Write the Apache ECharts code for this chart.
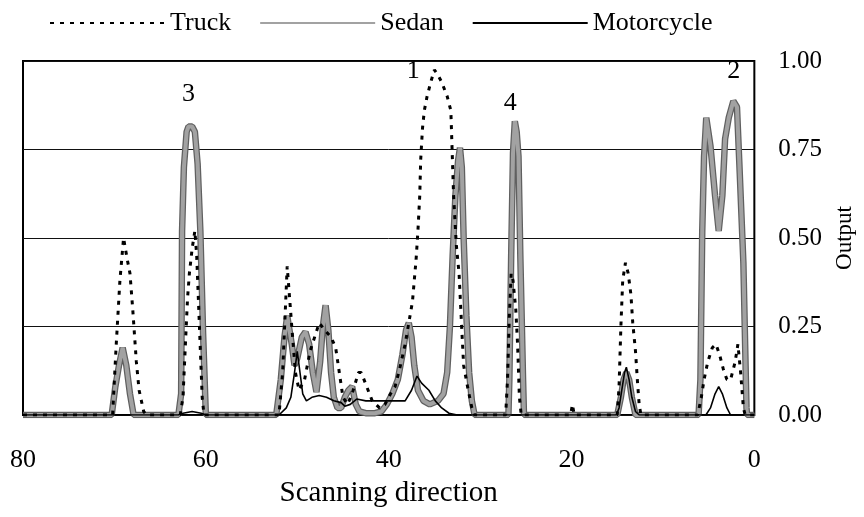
<!DOCTYPE html>
<html>
<head>
<meta charset="utf-8">
<script src="https://cdn.jsdelivr.net/npm/echarts@6/dist/echarts.min.js"></script>
<style>html,body{margin:0;padding:0;background:#fff;}#c{width:864px;height:517px;}</style>
</head>
<body>
<div id="c"></div>
<script>
// x = scanning position (80 -> 0), y = output
var seriesNames = ['Truck', 'Sedan', 'Motorcycle'];
var xTicks = [0, 20, 40, 60, 80];
var yTicks = [0, 0.25, 0.5, 0.75, 1.0];

var truck = [
  [80,0],[70.2,0],[69.8,0.2],[69.4,0.38],[69.0,0.50],[68.6,0.44],[68.3,0.40],[68.0,0.30],[67.6,0.15],[67.3,0.07],[66.8,0.01],[66.5,0],
  [62.8,0],[62.5,0.05],[62.2,0.22],[62.0,0.33],[61.8,0.40],[61.5,0.47],[61.2,0.52],[61.0,0.45],[60.7,0.25],[60.4,0.05],[60.2,0],
  [52.0,0],[51.6,0.12],[51.3,0.30],[51.1,0.42],[50.9,0.42],[50.6,0.25],[50.2,0.12],[49.8,0.07],[49.2,0.10],[48.6,0.18],[48.1,0.22],
  [47.6,0.26],[47.0,0.24],[46.3,0.22],[45.8,0.19],[45.4,0.12],[45.0,0.05],[44.5,0.03],[44.0,0.06],[43.3,0.12],[43.0,0.12],[42.4,0.08],
  [41.8,0.04],[41.0,0.02],[40.4,0.03],[39.8,0.06],[39.3,0.08],[38.8,0.13],[38.2,0.20],[37.8,0.26],[37.4,0.32],[37.0,0.44],[36.8,0.52],
  [36.6,0.62],[36.5,0.72],[36.3,0.81],[36.1,0.86],[35.8,0.90],[35.4,0.94],[35.0,0.975],[34.6,0.96],[34.2,0.94],[33.6,0.90],[33.2,0.86],
  [33.1,0.78],[32.9,0.62],[32.6,0.48],[32.3,0.40],[32.0,0.24],[31.8,0.14],[31.3,0.07],[30.9,0.02],[30.6,0],
  [27.2,0],[27.0,0.10],[26.8,0.28],[26.6,0.40],[26.4,0.38],[26.1,0.30],[25.9,0.20],[25.7,0.05],[25.5,0],
  [20.1,0],[19.9,0.03],[19.7,0],
  [15.0,0],[14.8,0.08],[14.6,0.25],[14.4,0.38],[14.1,0.43],[13.8,0.40],[13.5,0.34],[13.3,0.26],[13.0,0.18],[12.8,0.10],[12.6,0.03],[12.4,0],
  [6.2,0],[5.8,0.05],[5.5,0.10],[5.1,0.15],[4.6,0.19],[4.2,0.20],[3.8,0.17],[3.4,0.13],[3.0,0.10],[2.6,0.10],[2.1,0.15],[1.8,0.20],
  [1.5,0.12],[1.2,0.02],[1.0,0],[0,0]
];

var sedan = [
  [80,0],[70.3,0],[69.9,0.08],[69.5,0.14],[69.1,0.19],[68.7,0.14],[68.3,0.06],[67.9,0],
  [63.0,0],[62.7,0.06],[62.6,0.52],[62.4,0.70],[62.1,0.80],[61.9,0.815],[61.5,0.815],[61.2,0.80],[60.9,0.71],[60.6,0.52],[60.3,0.23],[60.0,0],
  [52.3,0],[51.8,0.10],[51.4,0.22],[51.1,0.28],[50.9,0.28],[50.6,0.20],[50.3,0.14],[50.0,0.16],[49.5,0.22],[49.1,0.235],[48.7,0.20],
  [48.3,0.12],[47.9,0.065],[47.5,0.15],[47.2,0.25],[46.9,0.31],[46.6,0.24],[46.3,0.12],[46.0,0.05],[45.6,0.02],[45.2,0.02],[44.8,0.05],
  [44.4,0.07],[44.0,0.08],[43.6,0.03],[43.2,0.01],[42.5,0.005],[41.5,0.005],[40.8,0.01],[40.2,0.03],[39.6,0.06],[39.0,0.10],[38.5,0.17],
  [38.1,0.24],[37.8,0.26],[37.5,0.22],[37.2,0.14],[36.8,0.07],[36.2,0.04],[35.5,0.03],[34.6,0.04],[34.0,0.06],[33.6,0.12],[33.3,0.25],
  [33.0,0.45],[32.7,0.62],[32.4,0.72],[32.2,0.755],[32.0,0.70],[31.8,0.50],[31.5,0.28],[31.2,0.12],[30.9,0.04],[30.6,0],
  [26.9,0],[26.8,0.10],[26.6,0.45],[26.4,0.74],[26.2,0.83],[26.0,0.80],[25.8,0.73],[25.6,0.45],[25.3,0.10],[25.2,0],
  [15.0,0],[14.6,0.05],[14.3,0.10],[14.0,0.12],[13.7,0.10],[13.4,0.05],[13.0,0],
  [6.1,0],[5.9,0.10],[5.7,0.52],[5.5,0.73],[5.26,0.84],[4.8,0.76],[4.3,0.62],[3.9,0.52],[3.5,0.62],[3.2,0.78],[2.8,0.84],[2.3,0.887],
  [1.9,0.87],[1.6,0.685],[1.2,0.43],[0.86,0.02],[0.8,0],[0,0]
];

var motorcycle = [
  [80,0],[63.0,0],[62.5,0.005],[61.5,0.01],[60.5,0.005],[60.0,0],
  [52.0,0],[51.2,0.02],[50.7,0.05],[50.3,0.12],[50.0,0.18],[49.7,0.12],[49.4,0.06],[49.0,0.04],[48.4,0.05],[47.6,0.055],[46.8,0.05],
  [46.0,0.04],[45.2,0.035],[44.8,0.025],[44.2,0.03],[43.5,0.045],[42.5,0.04],[40.0,0.04],[38.2,0.04],[37.5,0.07],[36.9,0.11],
  [36.4,0.09],[35.6,0.07],[34.9,0.04],[34.2,0.02],[33.4,0.005],[32.5,0],
  [15.1,0],[14.8,0.02],[14.5,0.07],[14.2,0.12],[14.0,0.135],[13.7,0.10],[13.4,0.05],[13.0,0.01],[12.6,0],
  [5.3,0],[4.8,0.02],[4.3,0.06],[3.9,0.08],[3.5,0.06],[3.0,0.02],[2.6,0],[0,0]
];

var annotations = [[61.9,0.906,'3'],[37.3,0.97,'1'],[26.7,0.88,'4'],[2.25,0.97,'2']];

var serif = '"Liberation Serif", "DejaVu Serif", serif';
var chart = echarts.init(document.getElementById('c'), null, {renderer: 'canvas'});
chart.setOption({
  backgroundColor: '#fff',
  animation: false,
  legend: {
    data: seriesNames,
    left: 44, top: 5,
    itemWidth: 115, itemHeight: 14, itemGap: 28,
    itemStyle: {opacity: 0},
    textStyle: {fontFamily: serif, fontSize: 26, color: '#000'}
  },
  grid: {left: 23, right: 96, top: 61, bottom: 102, show: true, borderColor: '#000', borderWidth: 2, backgroundColor: 'transparent'},
  xAxis: {
    type: 'value', min: 0, max: 80, interval: 20, inverse: true,
    name: 'Scanning direction', nameLocation: 'middle', nameGap: 64,
    nameTextStyle: {fontFamily: serif, fontSize: 29, color: '#000'},
    axisLine: {show: false}, axisTick: {show: false}, splitLine: {show: false},
    axisLabel: {margin: 32, fontFamily: serif, fontSize: 26, color: '#000', showMinLabel: true, showMaxLabel: true}
  },
  yAxis: {
    type: 'value', position: 'right', min: 0, max: 1, interval: 0.25,
    name: 'Output', nameLocation: 'middle', nameRotate: 90, nameGap: 74,
    nameTextStyle: {fontFamily: serif, fontSize: 23, color: '#000'},
    axisLine: {show: false}, axisTick: {show: false},
    splitLine: {show: true, lineStyle: {color: '#111', width: 1}},
    axisLabel: {margin: 24, fontFamily: serif, fontSize: 25, color: '#000', formatter: function (v) { return v.toFixed(2); }}
  },
  series: [
    {name: 'Sedan', type: 'line', data: sedan, symbol: 'none', z: 4, clip: true,
     lineStyle: {color: '#a2a2a2', width: 4}, itemStyle: {color: '#a2a2a2'}},
    {name: 'Sedan', type: 'line', data: sedan, symbol: 'none', z: 3, clip: true,
     lineStyle: {color: '#606060', width: 6.5}, itemStyle: {color: '#606060'}},
    {name: 'Truck', type: 'line', data: truck, symbol: 'none', z: 5, clip: true,
     lineStyle: {color: '#000', width: 3, type: [4, 6]}, itemStyle: {color: '#000'}},
    {name: 'Motorcycle', type: 'line', data: motorcycle, symbol: 'none', z: 6, clip: true,
     lineStyle: {color: '#000', width: 1.6}, itemStyle: {color: '#000'}},
    {name: 'labels', type: 'scatter', data: annotations, symbolSize: 0, silent: true, z: 7,
     itemStyle: {color: '#000', opacity: 1},
     label: {show: true, position: 'inside', fontFamily: serif, fontSize: 26, color: '#000', opacity: 1,
             formatter: function (p) { return p.data[2]; }}}
  ]
});
</script>
</body>
</html>
